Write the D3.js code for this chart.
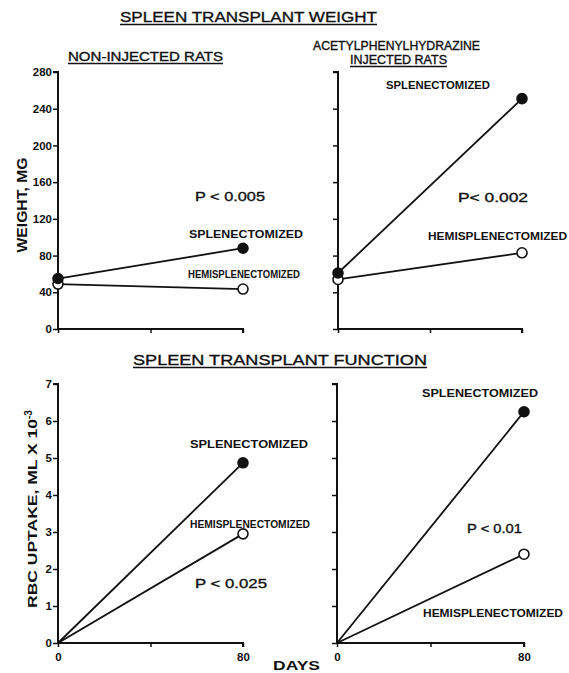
<!DOCTYPE html>
<html>
<head>
<meta charset="utf-8">
<script src="https://cdn.jsdelivr.net/npm/d3@7"></script>
<style>
  html, body { margin: 0; padding: 0; background: #fff; }
  svg text { font-family: "Liberation Sans", Arial, sans-serif; fill: #111; }
</style>
</head>
<body>
<svg id="chart" width="569" height="673"></svg>
<script>
// Time points (days after transplant)
const days = [0, 80];
const dayTicks = [0, 40, 80];
const dayLabels = ["0", "", "80"];

// Spleen transplant weight (mg)
const weightTicks = [0, 40, 80, 120, 160, 200, 240, 280];
const weightNonInjSplen = [55, 88];
const weightNonInjHemi = [49, 43.5];
const weightInjSplen = [61, 251];
const weightInjHemi = [54, 83];

// Spleen transplant function: RBC uptake (ml x 10^-3)
const rbcTicks = [0, 1, 2, 3, 4, 5, 6, 7];
const rbcNonInjSplen = [0, 4.87];
const rbcNonInjHemi = [0, 2.95];
const rbcInjSplen = [0, 6.25];
const rbcInjHemi = [0, 2.4];

const svg = d3.select("#chart");
const ink = "#111";

const yWeight = d3.scaleLinear().domain([0, 280]).range([329, 72]);
const yRbc = d3.scaleLinear().domain([0, 7]).range([643, 384]);

function panel(opts) {
  const x = d3.scaleLinear().domain([0, 80]).range([opts.x0, opts.x1]);
  const y = opts.y;
  const g = svg.append("g");

  // y axis
  const yAxis = d3.axisLeft(y).tickValues(opts.yTicks).tickSize(5).tickPadding(1)
    .tickFormat(opts.yLabels ? d3.format("d") : () => "");
  const ya = g.append("g").attr("transform", `translate(${opts.x0},0)`).call(yAxis);
  ya.select(".domain").attr("d", `M-5,${y.range()[1]}H0V${y.range()[0]}`).attr("stroke", ink).attr("stroke-width", 2);
  ya.selectAll(".tick line").attr("stroke", ink).attr("stroke-width", 1.5);
  ya.selectAll(".tick text").attr("font-size", 11.5).attr("font-weight", "bold").attr("fill", ink)
    .attr("font-family", "'Liberation Sans', Arial, sans-serif");

  // x axis
  const xAxis = d3.axisBottom(x).tickValues(dayTicks).tickSize(4).tickPadding(6)
    .tickFormat((d, i) => opts.xLabels ? dayLabels[i] : "");
  const xa = g.append("g").attr("transform", `translate(0,${y.range()[0]})`).call(xAxis);
  xa.select(".domain").attr("d", `M${opts.x0},0H${opts.x1}V4`).attr("stroke", ink).attr("stroke-width", 2);
  xa.selectAll(".tick line").attr("stroke", ink).attr("stroke-width", 1.5);
  xa.selectAll(".tick text").attr("font-size", 11.5).attr("font-weight", "bold").attr("fill", ink)
    .attr("font-family", "'Liberation Sans', Arial, sans-serif");

  const line = d3.line().x((d, i) => x(days[i])).y(d => y(d));

  opts.series.forEach(s => {
    g.append("path").datum(s.values).attr("d", line)
      .attr("fill", "none").attr("stroke", ink).attr("stroke-width", 1.8);
  });
  opts.series.forEach(s => {
    const pts = s.values.map((v, i) => ({ d: days[i], v })).filter(p => opts.markAtZero || p.d !== 0);
    g.selectAll(null).data(pts).enter().append("circle")
      .attr("cx", p => x(p.d)).attr("cy", p => y(p.v)).attr("r", 5)
      .attr("fill", s.filled ? ink : "#fff").attr("stroke", ink).attr("stroke-width", 1.6);
  });
  return g;
}

panel({ x0: 58, x1: 243, y: yWeight, yTicks: weightTicks, yLabels: true, xLabels: false, markAtZero: true,
  series: [{ values: weightNonInjHemi, filled: false }, { values: weightNonInjSplen, filled: true }] });
panel({ x0: 338, x1: 522, y: yWeight, yTicks: weightTicks, yLabels: false, xLabels: false, markAtZero: true,
  series: [{ values: weightInjHemi, filled: false }, { values: weightInjSplen, filled: true }] });
panel({ x0: 58, x1: 243, y: yRbc, yTicks: rbcTicks, yLabels: true, xLabels: true, markAtZero: false,
  series: [{ values: rbcNonInjHemi, filled: false }, { values: rbcNonInjSplen, filled: true }] });
panel({ x0: 337, x1: 524, y: yRbc, yTicks: rbcTicks, yLabels: false, xLabels: true, markAtZero: false,
  series: [{ values: rbcInjHemi, filled: false }, { values: rbcInjSplen, filled: true }] });

// Text helpers
function label(x, y, txt, size, opts = {}) {
  const t = svg.append("text").attr("x", x).attr("y", y).text(txt)
    .attr("font-size", size).attr("font-weight", opts.weight || "bold")
    .attr("text-anchor", opts.anchor || "start");
  if (opts.weight === "normal") t.attr("stroke", ink).attr("stroke-width", 0.35);
  if (opts.len) t.attr("textLength", opts.len).attr("lengthAdjust", "spacingAndGlyphs");
  if (opts.underline) {
    const b = t.node().getBBox();
    svg.append("line").attr("x1", b.x).attr("x2", b.x + b.width)
      .attr("y1", y + 2.5).attr("y2", y + 2.5).attr("stroke", ink).attr("stroke-width", 1.4);
  }
  return t;
}

// Titles
label(120, 22, "SPLEEN TRANSPLANT WEIGHT", 15, { weight: "normal", len: 257, underline: true });
label(133, 365, "SPLEEN TRANSPLANT FUNCTION", 15, { weight: "normal", len: 294, underline: true });
label(68, 61, "NON-INJECTED RATS", 12, { weight: "normal", len: 155, underline: true });
label(313, 50, "ACETYLPHENYLHYDRAZINE", 12, { weight: "normal", len: 167 });
label(350, 64, "INJECTED RATS", 12, { weight: "normal", len: 97, underline: true });

// Series and significance labels
label(189, 238, "SPLENECTOMIZED", 11, { len: 114 });
label(188, 278, "HEMISPLENECTOMIZED", 10.5, { len: 112 });
label(195, 201, "P < 0.005", 13, { weight: "normal", len: 70 });

label(386, 89, "SPLENECTOMIZED", 10.5, { len: 104 });
label(428, 240, "HEMISPLENECTOMIZED", 10.5, { len: 139 });
label(458, 202, "P< 0.002", 13, { weight: "normal", len: 70 });

label(190, 448, "SPLENECTOMIZED", 10.5, { len: 118 });
label(190, 528, "HEMISPLENECTOMIZED", 10.5, { len: 120 });
label(195, 588, "P < 0.025", 13, { weight: "normal", len: 72 });

label(422, 397, "SPLENECTOMIZED", 10.5, { len: 116 });
label(423, 617, "HEMISPLENECTOMIZED", 10.5, { len: 140 });
label(467, 533, "P < 0.01", 13, { weight: "normal", len: 55 });

label(273, 670, "DAYS", 12, { len: 47 });

// Axis titles
svg.append("text").attr("transform", "translate(27,205) rotate(-90)")
  .attr("text-anchor", "middle").attr("font-size", 14).attr("font-weight", "bold")
  .attr("textLength", 95).attr("lengthAdjust", "spacingAndGlyphs").text("WEIGHT, MG");

const rbcTitle = svg.append("text").attr("transform", "translate(37,608) rotate(-90)")
  .attr("text-anchor", "start").attr("font-size", 13).attr("font-weight", "bold");
rbcTitle.append("tspan").attr("textLength", 189).attr("lengthAdjust", "spacingAndGlyphs")
  .text("RBC UPTAKE, ML X 10");
rbcTitle.append("tspan").attr("dy", -5).attr("font-size", 10).text("-3");
</script>
</body>
</html>
